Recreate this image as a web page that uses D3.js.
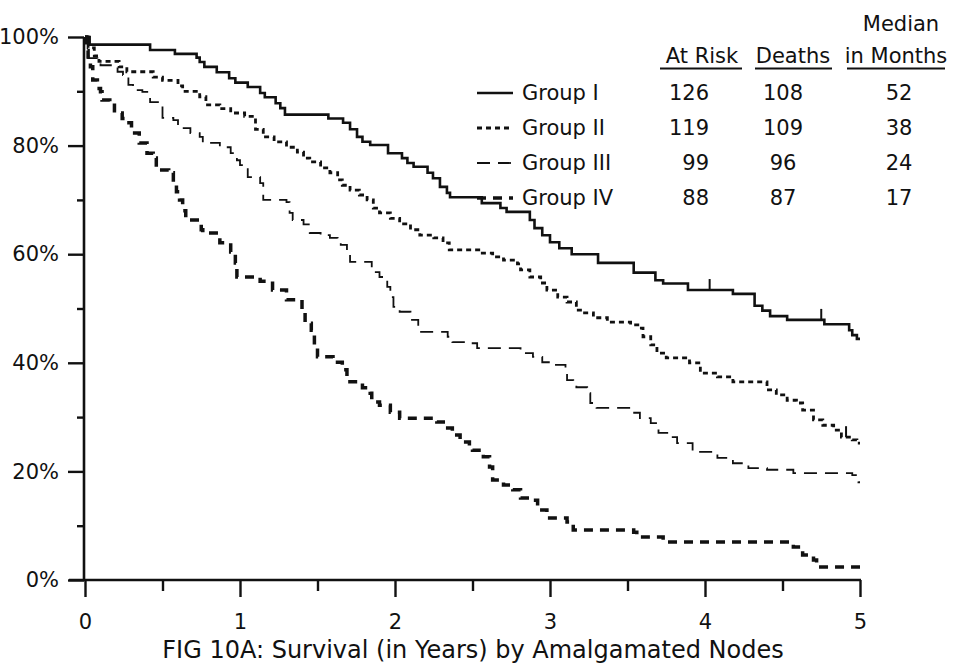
<!DOCTYPE html>
<html>
<head>
<meta charset="utf-8">
<script src="https://cdn.jsdelivr.net/npm/d3@7"></script>
<style>
  html, body { margin: 0; padding: 0; background: #fff; }
  svg text { font-family: "DejaVu Sans", "Liberation Sans", sans-serif; fill: #111; }
</style>
</head>
<body>
<svg id="chart" width="955" height="670"></svg>
<script>
// Kaplan-Meier steps: [years, percent surviving after the event]
const groupI = [[0,100],[0.03,98.6],[0.42,97.6],[0.58,96.9],[0.72,96.2],[0.74,95.4],[0.77,94.5],[0.85,93.5],[0.93,92.4],[0.97,91.6],[1.05,90.8],[1.13,89.7],[1.16,88.9],[1.23,87.8],[1.26,86.9],[1.29,85.7],[1.57,85.0],[1.665,84.2],[1.71,83.0],[1.755,81.6],[1.79,80.7],[1.84,80.1],[1.955,78.6],[2.045,77.7],[2.08,76.8],[2.12,76.1],[2.21,75.0],[2.245,74.0],[2.29,72.4],[2.335,71.3],[2.355,70.5],[2.56,69.4],[2.68,68.5],[2.72,67.8],[2.87,66.3],[2.90,64.8],[2.95,63.5],[3.00,62.2],[3.06,61.1],[3.14,60.0],[3.31,58.4],[3.54,56.6],[3.68,55.2],[3.73,54.6],[3.89,53.4],[4.18,52.7],[4.32,50.5],[4.37,49.6],[4.42,48.6],[4.53,47.9],[4.77,47.1],[4.93,46.0],[4.95,45.1],[4.98,44.4]];
const groupII = [[0,100],[0.02,98.0],[0.06,96.5],[0.09,95.5],[0.22,94.5],[0.27,93.6],[0.44,92.6],[0.50,92.0],[0.60,91.0],[0.63,90.0],[0.74,89.0],[0.78,87.5],[0.87,86.8],[0.94,86.0],[1.03,85.4],[1.10,83.0],[1.15,81.6],[1.22,80.7],[1.30,79.7],[1.37,78.8],[1.41,77.7],[1.45,77.0],[1.52,75.9],[1.58,75.0],[1.63,73.7],[1.66,72.7],[1.71,71.8],[1.77,70.9],[1.82,70.0],[1.86,68.5],[1.90,67.6],[1.97,66.6],[2.03,65.6],[2.10,64.5],[2.16,63.5],[2.25,63.0],[2.31,62.1],[2.35,60.8],[2.55,60.2],[2.63,59.5],[2.70,58.9],[2.79,58.2],[2.81,57.1],[2.87,55.8],[2.94,54.7],[2.98,53.4],[3.05,52.1],[3.11,51.2],[3.17,49.7],[3.21,49.2],[3.28,48.3],[3.37,47.5],[3.52,47.0],[3.58,46.4],[3.60,44.8],[3.65,43.3],[3.69,41.8],[3.75,40.9],[3.90,40.0],[3.97,38.1],[4.08,37.4],[4.18,36.5],[4.40,35.0],[4.46,34.1],[4.53,33.1],[4.59,32.6],[4.63,31.3],[4.70,29.5],[4.76,28.5],[4.83,27.6],[4.88,26.3],[4.95,25.8],[4.98,25.2]];
const groupIII = [[0,100],[0.02,96.1],[0.08,95.4],[0.10,94.8],[0.21,93.6],[0.245,93.0],[0.28,91.2],[0.31,90.2],[0.37,89.9],[0.42,88.0],[0.50,85.1],[0.57,84.7],[0.60,83.2],[0.68,82.3],[0.74,81.6],[0.76,80.5],[0.87,79.7],[0.94,78.6],[0.98,77.3],[1.00,76.4],[1.05,74.2],[1.13,73.1],[1.15,70.0],[1.30,69.6],[1.32,67.6],[1.34,66.3],[1.41,65.5],[1.45,63.9],[1.52,63.5],[1.58,63.0],[1.63,62.2],[1.65,61.7],[1.69,60.2],[1.71,58.6],[1.85,56.7],[1.90,55.8],[1.94,55.2],[1.95,54.0],[1.97,52.1],[1.99,50.3],[2.03,49.4],[2.10,47.9],[2.15,46.6],[2.16,45.7],[2.34,44.8],[2.37,43.8],[2.46,43.6],[2.53,42.7],[2.81,41.8],[2.89,41.1],[2.95,40.1],[3.02,39.6],[3.10,38.7],[3.11,36.8],[3.15,36.5],[3.17,35.5],[3.24,34.4],[3.26,32.6],[3.30,31.7],[3.52,30.8],[3.58,29.8],[3.65,28.9],[3.69,28.0],[3.70,27.1],[3.77,26.3],[3.82,25.2],[3.92,23.6],[4.08,22.5],[4.18,21.5],[4.27,21.2],[4.28,20.6],[4.40,20.3],[4.57,19.7],[4.95,19.3],[4.99,18.0]];
const groupIV = [[0,100],[0.01,97.5],[0.02,96.3],[0.035,94.5],[0.05,92.1],[0.08,90.5],[0.10,89.9],[0.11,88.4],[0.16,87.8],[0.19,86.0],[0.24,85.0],[0.27,84.2],[0.30,82.3],[0.35,80.5],[0.40,78.6],[0.44,77.7],[0.46,75.5],[0.54,75.0],[0.57,73.3],[0.59,71.5],[0.61,70.0],[0.63,68.0],[0.65,66.3],[0.75,64.5],[0.76,63.9],[0.87,62.1],[0.94,60.4],[0.97,58.4],[0.98,55.8],[1.13,55.0],[1.21,53.4],[1.30,51.6],[1.40,49.7],[1.42,47.3],[1.46,46.0],[1.48,42.9],[1.50,41.1],[1.60,40.1],[1.66,38.7],[1.69,36.5],[1.79,35.4],[1.84,34.4],[1.85,32.8],[1.90,32.2],[1.97,30.9],[2.03,29.8],[2.27,29.1],[2.34,28.0],[2.37,26.7],[2.42,25.4],[2.48,24.3],[2.50,23.9],[2.57,22.7],[2.61,20.8],[2.63,18.4],[2.70,17.5],[2.76,16.6],[2.81,15.1],[2.89,14.7],[2.92,12.9],[2.98,11.4],[3.11,10.7],[3.15,9.2],[3.54,8.8],[3.56,7.9],[3.73,7.0],[4.57,6.1],[4.63,4.6],[4.70,3.7],[4.72,2.4]];

// Censored observations marked with a small upward tick
const groupICensored = [[4.03,53.4],[4.75,47.9]];
const groupIICensored = [[4.91,26.3]];

const groupNames = ["Group I", "Group II", "Group III", "Group IV"];
const atRisk = [126, 119, 99, 88];
const deaths = [108, 109, 96, 87];
const medianMonths = [52, 38, 24, 17];

const xTicks = [0, 1, 2, 3, 4, 5];
const yTicks = [0, 20, 40, 60, 80, 100];
const yTickLabels = ["0%", "20%", "40%", "60%", "80%", "100%"];
const caption = "FIG 10A: Survival (in Years) by Amalgamated Nodes";
const followUp = 5;

const styles = [
  { width: 2.6, dash: null },
  { width: 2.8, dash: "5,4" },
  { width: 1.8, dash: "13,8" },
  { width: 3.5, dash: "9,7" }
];

const svg = d3.select("#chart");
svg.append("rect").attr("width", 955).attr("height", 670).attr("fill", "#fff");

const x = d3.scaleLinear().domain([0, 5]).range([85, 860]);
const y = d3.scaleLinear().domain([0, 100]).range([580, 37]);

// Axes
const ink = "#111";
const yAxis = svg.append("g").attr("transform", `translate(${x(0) - 1},0)`)
  .call(d3.axisLeft(y).tickValues(yTicks).tickFormat((d, i) => yTickLabels[i]).tickSize(16).tickPadding(9));
const yMinor = svg.append("g").attr("transform", `translate(${x(0) - 1},0)`)
  .call(d3.axisLeft(y).tickValues([10, 30, 50, 70, 90]).tickFormat("").tickSize(7));
const xAxis = svg.append("g").attr("transform", `translate(0,${y(0)})`)
  .call(d3.axisBottom(x).tickValues(xTicks).tickFormat(d3.format("d")).tickSize(17).tickPadding(17));
const xMinor = svg.append("g").attr("transform", `translate(0,${y(0)})`)
  .call(d3.axisBottom(x).tickValues([0.5, 1.5, 2.5, 3.5, 4.5]).tickFormat("").tickSize(11));

[yAxis, yMinor, xAxis, xMinor].forEach(g => {
  g.selectAll(".domain").remove();
  g.selectAll(".tick line").attr("stroke", ink).attr("stroke-width", 2.4);
  g.selectAll(".tick text").attr("font-size", 21).attr("fill", ink)
    .style("font-family", '"DejaVu Sans", sans-serif');
});

svg.append("line").attr("x1", x(0) - 1).attr("x2", x(0) - 1).attr("y1", y(100)).attr("y2", y(0) + 1)
  .attr("stroke", ink).attr("stroke-width", 2.6);
svg.append("line").attr("x1", x(0) - 16).attr("x2", x(5) + 1).attr("y1", y(0)).attr("y2", y(0))
  .attr("stroke", ink).attr("stroke-width", 2.6);

// Survival curves
const line = d3.line().x(d => x(d[0])).y(d => y(d[1])).curve(d3.curveStepAfter);
const groups = [groupI, groupII, groupIII, groupIV];
groups.forEach((g, i) => {
  const pts = g.concat([[followUp, g[g.length - 1][1]]]);
  svg.append("path").datum(pts)
    .attr("d", line)
    .attr("fill", "none")
    .attr("stroke", ink)
    .attr("stroke-width", styles[i].width)
    .attr("stroke-dasharray", styles[i].dash)
    .attr("stroke-linejoin", "miter");
});

[groupICensored, groupIICensored].forEach(c => {
  svg.selectAll(null).data(c).enter().append("line")
    .attr("x1", d => x(d[0])).attr("x2", d => x(d[0]))
    .attr("y1", d => y(d[1])).attr("y2", d => y(d[1]) - 11)
    .attr("stroke", ink).attr("stroke-width", 2);
});

// Legend with summary table
const rowY = i => 100 + i * 35;
groupNames.forEach((name, i) => {
  svg.append("line").attr("x1", 477).attr("x2", 513).attr("y1", rowY(i) - 7).attr("y2", rowY(i) - 7)
    .attr("stroke", ink).attr("stroke-width", styles[i].width)
    .attr("stroke-dasharray", styles[i].dash);
  svg.append("text").attr("x", 522).attr("y", rowY(i)).attr("font-size", 21).text(name);
  svg.append("text").attr("x", 709).attr("y", rowY(i)).attr("font-size", 21)
    .attr("text-anchor", "end").text(atRisk[i]);
  svg.append("text").attr("x", 783).attr("y", rowY(i)).attr("font-size", 21)
    .attr("text-anchor", "middle").text(deaths[i]);
  svg.append("text").attr("x", 899).attr("y", rowY(i)).attr("font-size", 21)
    .attr("text-anchor", "middle").text(medianMonths[i]);
});

const headers = [
  { text: "At Risk", cx: 702, u0: 660, u1: 742 },
  { text: "Deaths", cx: 793, u0: 755, u1: 832 },
  { text: "in Months", cx: 896, u0: 847, u1: 945 }
];
headers.forEach(h => {
  svg.append("text").attr("x", h.cx).attr("y", 63).attr("font-size", 21)
    .attr("text-anchor", "middle").text(h.text);
  svg.append("line").attr("x1", h.u0).attr("x2", h.u1).attr("y1", 68.5).attr("y2", 68.5)
    .attr("stroke", ink).attr("stroke-width", 1.8);
});
svg.append("text").attr("x", 901).attr("y", 31).attr("font-size", 21)
  .attr("text-anchor", "middle").text("Median");

svg.append("text").attr("x", 473).attr("y", 658).attr("font-size", 24)
  .attr("text-anchor", "middle").text(caption);
</script>
</body>
</html>
